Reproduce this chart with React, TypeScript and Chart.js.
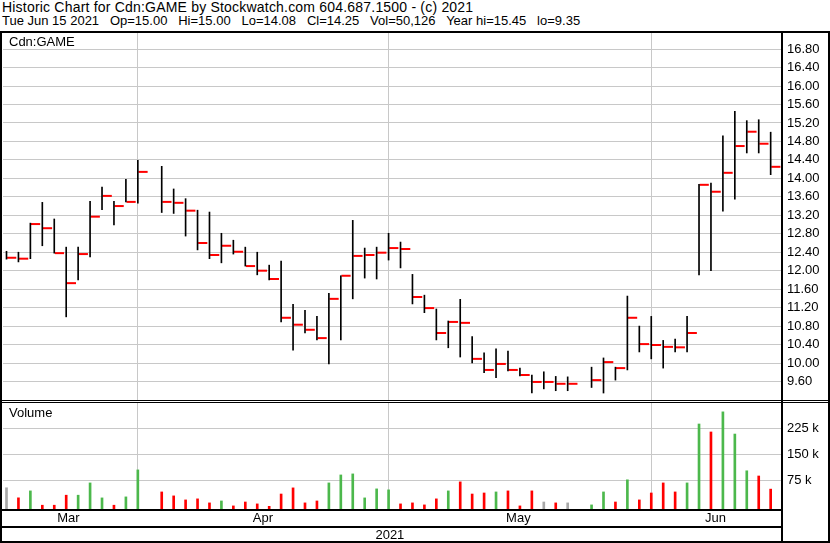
import React, { useEffect, useRef } from 'react';
import { Chart, registerables } from 'chart.js';

Chart.register(...registerables);

// ---- data (one slot per trading day, null = no trade) ----
const highs: (number | null)[] = [
  12.42, 12.40, 13.03, 13.48, 13.12, 12.51, 12.51, 13.50, 13.81, 13.50, 13.98, 14.39, null,
  14.26, 13.77, 13.56, 13.31, 13.27, 12.81, 12.66, 12.51, 12.40, 12.12, 12.21, 11.27, 11.14,
  11.01, 11.51, 11.89, 13.09, 12.49, 12.51, 12.81, 12.62, 11.92, 11.47, 11.17, 10.91, 11.38,
  10.57, 10.22, 10.31, 10.26, 9.89, 9.74, 9.81, 9.71, 9.70, null, 9.91, 10.11, 9.91, 11.45,
  10.80, 11.01, 10.49, 10.52, 11.01, 13.87, 13.90, 14.92, 15.45, 15.25, 15.27, 15.00,
];
const lows: (number | null)[] = [
  12.25, 12.19, 12.26, 12.54, 12.38, 11.00, 11.80, 12.30, 13.32, 12.99, 13.49, 13.46, null,
  13.26, 13.24, 12.75, 12.45, 12.26, 12.17, 12.36, 12.10, 11.91, 11.80, 10.89, 10.28, 10.65,
  10.50, 9.98, 10.50, 11.39, 11.84, 11.82, 12.23, 12.06, 11.28, 11.09, 10.50, 10.33, 10.13,
  10.00, 9.79, 9.68, 9.83, 9.72, 9.35, 9.44, 9.40, 9.40, null, 9.47, 9.35, 9.63, 9.85,
  10.24, 10.09, 9.89, 10.24, 10.24, 11.91, 12.00, 13.29, 13.55, 14.55, 14.55, 14.08,
];
const closes: (number | null)[] = [
  12.28, 12.26, 13.01, 12.92, 12.38, 11.73, 12.36, 13.17, 13.62, 13.40, 13.49, 14.14, null,
  13.49, 13.47, 13.30, 12.60, 12.34, 12.54, 12.41, 12.10, 12.00, 11.82, 10.98, 10.83, 10.72,
  10.54, 11.39, 11.89, 12.32, 12.34, 12.39, 12.49, 12.47, 11.43, 11.19, 10.65, 10.89, 10.87,
  10.09, 9.85, 9.98, 9.85, 9.74, 9.59, 9.59, 9.55, 9.55, null, 9.63, 10.02, 9.89, 10.98,
  10.41, 10.39, 10.35, 10.34, 10.65, 13.86, 13.71, 14.12, 14.70, 15.01, 14.75, 14.25,
];
const volumes: (number | null)[] = [
  54000, 25000, 45000, 3700, 3700, 32600, 32600, 68000, 24800, 3700, 27700, 105600, null,
  42000, 30600, 19000, 22000, 10400, 16000, 1700, 13000, 7500, 500, 36000, 53700, 10400,
  16000, 68000, 91000, 94000, 24800, 50800, 48000, 7500, 10400, 4600, 22000, 45000, 71000,
  36000, 39000, 42000, 45000, 1700, 45000, 13000, 10400, 10400, null, 4600, 42000, 13000, 77000,
  19000, 39000, 68000, 42000, 68000, 238000, 215000, 273000, 209000, 103000, 88000, 50126,
];

const priceTicks = [9.6, 10.0, 10.4, 10.8, 11.2, 11.6, 12.0, 12.4, 12.8, 13.2, 13.6, 14.0, 14.4, 14.8, 15.2, 15.6, 16.0, 16.4, 16.8];
const volumeTicks = [75000, 150000, 225000];
const volumeTickLabels = ['75 k', '150 k', '225 k'];
const monthBoundaries = [11, 32, 54];
const monthLabels = ['Mar', 'Apr', 'May', 'Jun'];
const monthCenters = [5.19, 21.48, 42.87, 59.38];
const yearLabels = ['2021'];
const yearCenters = [32.11];

const headerLine1 = 'Historic Chart for Cdn:GAME by Stockwatch.com 604.687.1500 - (c) 2021';
const headerLine2 = 'Tue Jun 15 2021   Op=15.00   Hi=15.00   Lo=14.08   Cl=14.25   Vol=50,126   Year hi=15.45   lo=9.35';
const priceTitle = 'Cdn:GAME';
const volumeTitle = 'Volume';

// ---- styling / scale ranges ----
const X_MIN = -0.293;
const X_MAX = 64.866;
const PRICE_MIN = 9.199;
const PRICE_MAX = 17.17;
const VOL_MIN = -7212;
const VOL_MAX = 298557;
const FONT = 'Liberation Sans, Arial, sans-serif';
const GRID = '#c8c8c8';
const RED = '#ff0000';
const GREEN = '#4cb84c';
const GRAY = '#a8a8a8';
const CLOSE_SHIFT = 0.435;

const zeroPad = (s: any) => {
  s.paddingTop = 0;
  s.paddingBottom = 0;
  s.paddingLeft = 0;
  s.paddingRight = 0;
};

export default function App() {
  const priceRef = useRef<HTMLCanvasElement | null>(null);
  const volRef = useRef<HTMLCanvasElement | null>(null);

  useEffect(() => {
    const rangeData: any[] = [];
    const closeData: any[] = [];
    const volData: any[] = [];
    const volColors: string[] = [];
    let prev: number | null = null;
    for (let k = 0; k < closes.length; k++) {
      const h = highs[k], l = lows[k], c = closes[k], v = volumes[k];
      if (h == null || l == null || c == null) continue;
      rangeData.push({ x: k, y: [l, h] });
      closeData.push({ x: k + CLOSE_SHIFT, y: c });
      if (v != null) {
        volData.push({ x: k, y: v });
        let col = GRAY;
        if (prev != null) col = c > prev ? GREEN : c < prev ? RED : GRAY;
        volColors.push(col);
      }
      prev = c;
    }

    const xGrid = {
      type: 'linear' as const,
      position: 'bottom' as const,
      min: X_MIN,
      max: X_MAX,
      offset: false,
      weight: 0,
      grid: { offset: false, color: GRID, lineWidth: 1, drawTicks: false },
      border: { display: false },
      ticks: { display: false },
      afterBuildTicks: (s: any) => { s.ticks = monthBoundaries.map((v) => ({ value: v })); },
      afterFit: (s: any) => { s.height = 0; zeroPad(s); },
    };

    const priceChart = new Chart(priceRef.current as HTMLCanvasElement, {
      type: 'bar',
      data: {
        datasets: [
          {
            type: 'bar',
            data: rangeData,
            backgroundColor: '#000000',
            borderWidth: 0,
            barThickness: 1,
            grouped: false,
          } as any,
          {
            type: 'line',
            data: closeData,
            showLine: false,
            pointStyle: 'line',
            pointRadius: 4.6,
            pointBorderWidth: 2,
            pointBorderColor: RED,
            pointBackgroundColor: RED,
            borderColor: RED,
          } as any,
        ],
      },
      options: {
        animation: false,
        responsive: false,
        devicePixelRatio: 1,
        events: [],
        layout: { autoPadding: false, padding: { left: 3, right: 3, top: 0, bottom: 0 } },
        plugins: { legend: { display: false }, tooltip: { enabled: false }, title: { display: false } },
        scales: {
          x: xGrid as any,
          y: {
            type: 'linear',
            position: 'right',
            min: PRICE_MIN,
            max: PRICE_MAX,
            grid: { color: GRID, lineWidth: 1, drawTicks: false },
            border: { display: false },
            ticks: {
              padding: 6,
              color: '#000',
              font: { family: FONT, size: 13 },
              callback: (v: any) => Number(v).toFixed(2),
            },
            afterBuildTicks: (s: any) => { s.ticks = priceTicks.map((v) => ({ value: v })); },
            afterFit: (s: any) => { s.width = 46; zeroPad(s); },
          } as any,
        },
      },
    });

    const volChart = new Chart(volRef.current as HTMLCanvasElement, {
      type: 'bar',
      data: {
        datasets: [
          {
            type: 'bar',
            data: volData,
            backgroundColor: volColors,
            borderWidth: 0,
            barThickness: 2,
            base: VOL_MIN,
            grouped: false,
          } as any,
        ],
      },
      options: {
        animation: false,
        responsive: false,
        devicePixelRatio: 1,
        events: [],
        layout: { autoPadding: false, padding: { left: 3, right: 3, top: 0, bottom: 0 } },
        plugins: { legend: { display: false }, tooltip: { enabled: false }, title: { display: false } },
        scales: {
          x: xGrid as any,
          xm: {
            type: 'linear',
            position: 'bottom',
            min: X_MIN,
            max: X_MAX,
            offset: false,
            weight: 1,
            grid: { display: false, drawTicks: false },
            border: { display: false },
            ticks: {
              autoSkip: false,
              maxRotation: 0,
              padding: 2,
              color: '#000',
              font: { family: FONT, size: 13 },
              callback: (_v: any, i: number) => monthLabels[i],
            },
            afterBuildTicks: (s: any) => { s.ticks = monthCenters.map((v) => ({ value: v })); },
            afterFit: (s: any) => { s.height = 17; zeroPad(s); },
          } as any,
          xy: {
            type: 'linear',
            position: 'bottom',
            min: X_MIN,
            max: X_MAX,
            offset: false,
            weight: 2,
            grid: { display: false, drawTicks: false },
            border: { display: false },
            ticks: {
              autoSkip: false,
              maxRotation: 0,
              padding: 2,
              color: '#000',
              font: { family: FONT, size: 13 },
              callback: (_v: any, i: number) => yearLabels[i],
            },
            afterBuildTicks: (s: any) => { s.ticks = yearCenters.map((v) => ({ value: v })); },
            afterFit: (s: any) => { s.height = 17; zeroPad(s); },
          } as any,
          y: {
            type: 'linear',
            position: 'right',
            min: VOL_MIN,
            max: VOL_MAX,
            grid: { color: GRID, lineWidth: 1, drawTicks: false },
            border: { display: false },
            ticks: {
              padding: 6,
              color: '#000',
              font: { family: FONT, size: 13 },
              callback: (_v: any, i: number) => volumeTickLabels[i],
            },
            afterBuildTicks: (s: any) => { s.ticks = volumeTicks.map((v) => ({ value: v })); },
            afterFit: (s: any) => { s.width = 46; zeroPad(s); },
          } as any,
        },
      },
    });

    return () => {
      priceChart.destroy();
      volChart.destroy();
    };
  }, []);

  const line = (left: number, top: number, width: number, height: number) => (
    <div style={{ position: 'absolute', left, top, width, height, background: '#000' }} />
  );

  const textStyle: React.CSSProperties = {
    position: 'absolute',
    fontFamily: FONT,
    fontSize: 13,
    lineHeight: '14px',
    color: '#000',
    whiteSpace: 'pre',
  };

  return (
    <div style={{ position: 'absolute', left: 0, top: 0, width: 830, height: 543, background: '#fff', overflow: 'hidden' }}>
      <div style={{ ...textStyle, left: 2, top: 0, fontSize: 14, letterSpacing: '0.2px' }}>{headerLine1}</div>
      <div style={{ ...textStyle, left: 2, top: 14 }}>{headerLine2}</div>
      <canvas ref={priceRef} width={830} height={368} style={{ position: 'absolute', left: 0, top: 32, width: 830, height: 368 }} />
      <canvas ref={volRef} width={830} height={140} style={{ position: 'absolute', left: 0, top: 403, width: 830, height: 140 }} />
      <div style={{ ...textStyle, left: 9, top: 35 }}>{priceTitle}</div>
      <div style={{ ...textStyle, left: 9, top: 406 }}>{volumeTitle}</div>
      {line(0, 31, 830, 2)}
      {line(0, 31, 2, 512)}
      {line(828, 31, 2, 512)}
      {line(781, 31, 2, 512)}
      {line(0, 400, 830, 1)}
      {line(0, 402, 830, 1)}
      {line(0, 509, 783, 2)}
      {line(0, 526, 783, 2)}
      {line(0, 541, 830, 2)}
    </div>
  );
}
